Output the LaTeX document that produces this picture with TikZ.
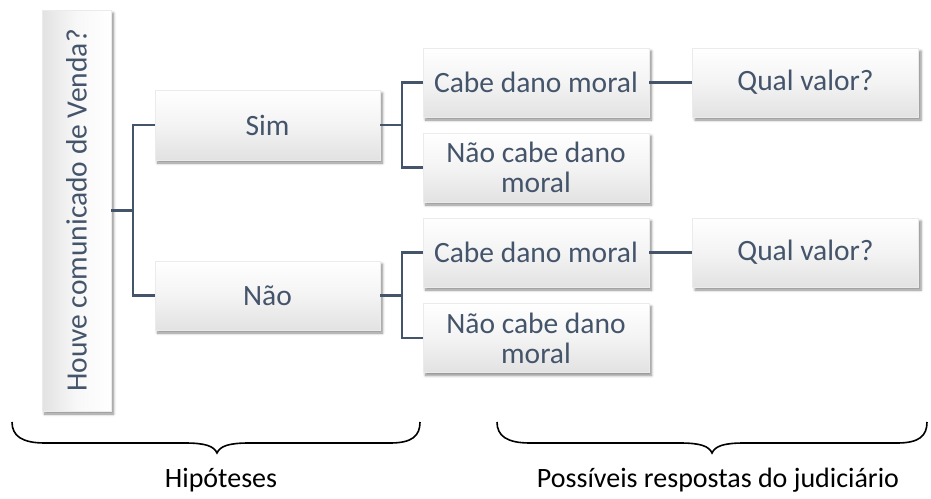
\documentclass[tikz,border=0pt]{standalone}
\usepackage{fontspec}
\setmainfont{Carlito}
\usetikzlibrary{shadows.blur}
\definecolor{slate}{HTML}{44546A}
\definecolor{boxgray}{HTML}{E2E2E2}
\tikzset{
  boxbase/.style={draw=black!8, line width=0.4pt,
    text=slate, font=\fontsize{29.5}{30}\selectfont, align=center, inner sep=0pt,
    minimum width=226pt, minimum height=69pt,
    blur shadow={shadow xshift=2.5pt, shadow yshift=-3pt, shadow opacity=45, shadow blur steps=6, shadow blur radius=2.5pt}},
  box/.style={boxbase, top color=white, bottom color=boxgray, middle color=white!60!boxgray},
  rootbox/.style={boxbase, left color=boxgray, right color=white, middle color=white!75!boxgray},
  conn/.style={draw=slate, line width=2.3pt},
  brace/.style={draw=black, line width=1.6pt},
  lab/.style={font=\fontsize{28}{30}\selectfont, text=black, inner sep=0pt}
}
\begin{document}
\begin{tikzpicture}[x=1pt, y=-1pt]
\useasboundingbox (0,0) rectangle (931,498);
% nodes
\node[rootbox, rotate=90, minimum width=401pt, minimum height=69pt] (root) at (76.5,210.5) {Houve comunicado de Venda?};
\node[box, minimum width=225pt, minimum height=70pt] (sim) at (267.5,125) {Sim};
\node[box, minimum width=225pt, minimum height=69pt] (nao) at (267.5,295.5) {Não};
\node[box] (c1) at (536,82.5) {Cabe dano moral};
\node[box] (n1) at (536,167.5) {Não cabe dano\\moral};
\node[box] (q1) at (805.5,82.5) {Qual valor?};
\node[box] (c2) at (536,252.5) {Cabe dano moral};
\node[box] (n2) at (536,338) {Não cabe dano\\moral};
\node[box] (q2) at (805.5,252.5) {Qual valor?};
% connectors
\path (root.south) ++(22,0) coordinate (j0);
\draw[conn] (root.south) -- (j0);
\draw[conn] (sim.west) -| (j0) |- (nao.west);
\path (sim.east) ++(22,0) coordinate (j1);
\draw[conn] (sim.east) -- (j1);
\draw[conn] (c1.west) -| (j1) |- (n1.west);
\path (nao.east) ++(22,0) coordinate (j2);
\draw[conn] (nao.east) -- (j2);
\draw[conn] (c2.west) -| (j2) |- (n2.west);
\draw[conn] (c1.east) -- (q1.west);
\draw[conn] (c2.east) -- (q2.west);
% braces
\coordinate (b1l) at (12,422);
\coordinate (b1r) at (420,422);
\coordinate (b1t) at (217,453);
\draw[brace] (b1l) .. controls (12,436) and (22,443) .. (45,443) -- (185,443)
  .. controls (205,443) and (214,446) .. (b1t)
  .. controls (220,446) and (229,443) .. (249,443) -- (390,443)
  .. controls (412,443) and (420,436) .. (b1r);
\coordinate (b2l) at (497,422);
\coordinate (b2r) at (927,422);
\coordinate (b2t) at (712,453);
\draw[brace] (b2l) .. controls (497,436) and (507,443) .. (530,443) -- (680,443)
  .. controls (700,443) and (709,446) .. (b2t)
  .. controls (715,446) and (724,443) .. (744,443) -- (897,443)
  .. controls (919,443) and (927,436) .. (b2r);
\node[lab, anchor=base] (h) at (221,487) {Hipóteses};
\node[lab, anchor=base] (p) at (718,487) {Possíveis respostas do judiciário};
\end{tikzpicture}
\end{document}
